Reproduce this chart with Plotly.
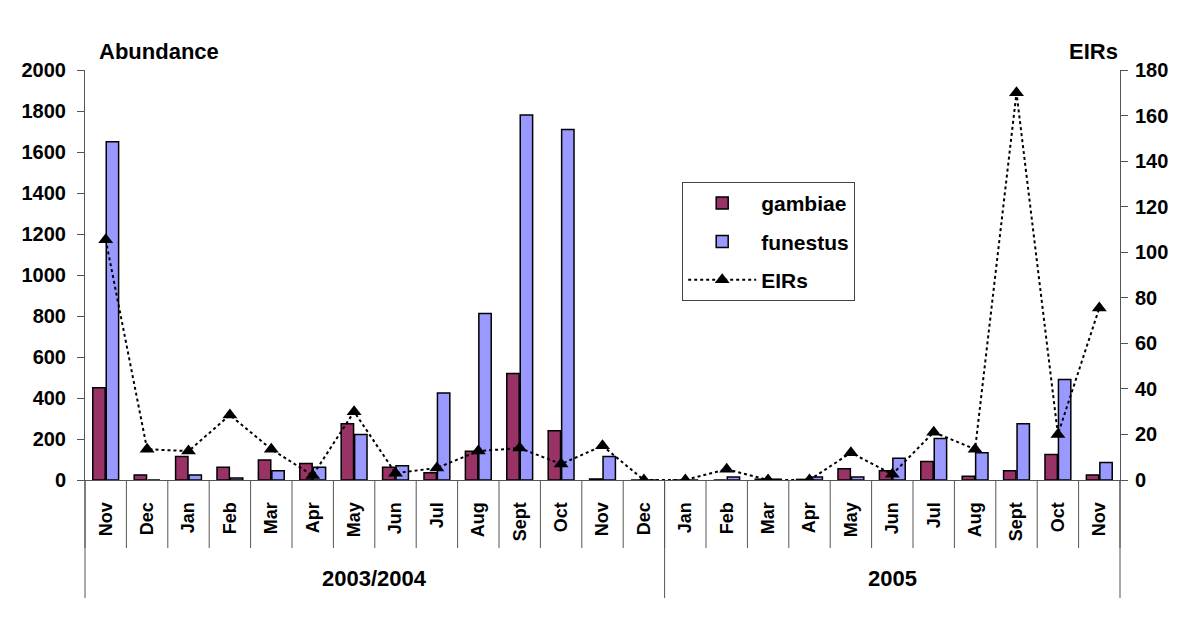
import plotly.graph_objects as go

months = ["Nov", "Dec", "Jan", "Feb", "Mar", "Apr", "May", "Jun", "Jul", "Aug", "Sept", "Oct", "Nov", "Dec",
          "Jan", "Feb", "Mar", "Apr", "May", "Jun", "Jul", "Aug", "Sept", "Oct", "Nov"]
groups = ["2003/2004", "2005"]
group_sizes = [14, 11]

gambiae = [450, 25, 115, 62, 97, 80, 275, 62, 35, 140, 520, 240, 5, 0,
           0, 0, 4, 3, 55, 45, 90, 18, 45, 125, 25]
funestus = [1650, 0, 25, 10, 45, 62, 222, 70, 425, 812, 1780, 1710, 115, 0,
            0, 15, 4, 15, 15, 106, 203, 133, 275, 490, 85]
eirs = [105.5, 13.5, 12.7, 28.5, 13.5, 2, 30, 3, 5.3, 12.7, 14, 7, 15, 0,
        0, 4.7, 0, 0, 12, 2.5, 21, 13.5, 170, 20, 75.5]

x = list(range(len(months)))
FONT = "Liberation Sans, Arial, sans-serif"
AXC = "#555555"

fig = go.Figure()
fig.add_trace(go.Bar(x=x, y=gambiae, name="gambiae", legendgroup="g",
                     marker=dict(color="#993366", line=dict(color="black", width=1.5))))
fig.add_trace(go.Bar(x=x, y=funestus, name="funestus", legendgroup="f",
                     marker=dict(color="#9999FF", line=dict(color="black", width=1.5))))
fig.add_trace(go.Scatter(x=x, y=eirs, name="EIRs", yaxis="y2", legendgroup="e", mode="lines+markers",
                         line=dict(color="black", width=2, dash="dot"),
                         marker=dict(symbol="triangle-up", size=13, color="black")))

n = len(months)
shapes = []
for k in range(n + 1):
    shapes.append(dict(type="line", xref="paper", yref="paper", x0=k / n, x1=k / n,
                       y0=0, y1=-0.166, line=dict(color=AXC, width=1)))
cum = 0
annotations = []
bounds = [0]
for s in group_sizes:
    cum += s
    bounds.append(cum)
for b in bounds:
    shapes.append(dict(type="line", xref="paper", yref="paper", x0=b / n, x1=b / n,
                       y0=0, y1=-0.288, line=dict(color=AXC, width=1)))
for i, g in enumerate(groups):
    xc = (bounds[i] + bounds[i + 1]) / 2 / n
    annotations.append(dict(text=g, xref="paper", yref="paper", x=xc, y=-0.24,
                            showarrow=False, xanchor="center", yanchor="middle",
                            font=dict(family="Liberation Sans Narrow, Arial Narrow, Liberation Sans",
                                      size=22, color="black", weight="bold")))

annotations.append(dict(text="Abundance", xref="paper", yref="paper", x=0.012, y=1.045,
                        showarrow=False, xanchor="left", yanchor="middle",
                        font=dict(family=FONT, size=22, color="black", weight="bold")))
annotations.append(dict(text="EIRs", xref="paper", yref="paper", x=1.0, y=1.045,
                        showarrow=False, xanchor="right", yanchor="middle",
                        font=dict(family=FONT, size=22, color="black", weight="bold")))

tickfont = dict(family=FONT, size=20, color="black", weight="bold")

fig.update_layout(
    width=1192, height=623,
    margin=dict(l=77, r=80, t=62, b=151),
    paper_bgcolor="white", plot_bgcolor="white",
    barmode="group", bargap=0.35, bargroupgap=0.08,
    font=dict(family=FONT, color="black"),
    xaxis=dict(tickmode="array", tickvals=x, ticktext=months, tickangle=-90,
               range=[-0.5, n - 0.5], showline=True, linecolor=AXC, linewidth=1,
               showgrid=False, zeroline=False, ticks="", ticklabelstandoff=14,
               tickfont=dict(family=FONT, size=18, color="black", weight="bold")),
    yaxis=dict(range=[0, 2000], dtick=200, showline=True, linecolor=AXC, linewidth=1,
               ticks="outside", ticklen=7, tickcolor=AXC, showgrid=False, zeroline=False,
               ticklabelstandoff=7, tickfont=tickfont),
    yaxis2=dict(range=[0, 180], dtick=20, overlaying="y", side="right", showline=True,
                linecolor=AXC, linewidth=1, ticks="outside", ticklen=7, tickcolor=AXC,
                showgrid=False, zeroline=False, ticklabelstandoff=3, tickfont=tickfont),
    yaxis3=dict(range=[0, 2000], dtick=200, overlaying="y", side="left", anchor="x",
                ticks="inside", ticklen=7, tickcolor=AXC, showticklabels=False,
                showgrid=False, zeroline=False, showline=False),
    yaxis4=dict(range=[0, 180], dtick=20, overlaying="y", side="right", anchor="x",
                ticks="inside", ticklen=7, tickcolor=AXC, showticklabels=False,
                showgrid=False, zeroline=False, showline=False),
    legend=dict(x=0.577, y=0.727, xanchor="left", yanchor="top", bordercolor="#444",
                borderwidth=1, bgcolor="white", tracegroupgap=8, itemwidth=68,
                font=dict(family=FONT, size=21, color="black", weight="bold")),
    shapes=shapes, annotations=annotations, showlegend=True,
)

fig.write_html("out.html")
